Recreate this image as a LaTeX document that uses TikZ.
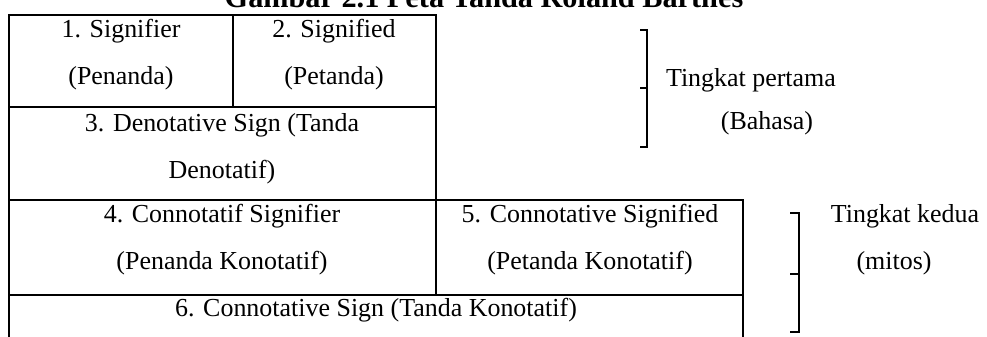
\documentclass[tikz,border=0pt]{standalone}
\usepackage{fontspec}
\setmainfont{Liberation Serif}

\begin{document}
\begin{tikzpicture}[x = 0.4625pt, y = -0.4625pt,
	txt/.style = {font = \fontsize{12}{14}\selectfont, inner sep = 0pt, anchor = base},
	frame/.style = {line width = 0.9pt},
	hook/.style = {line width = 0.8pt}]

	\useasboundingbox (0, 0) rectangle (987, 336);

	% Caption, cut off at the top
	
	\node [txt, font = \fontsize{14}{16}\bfseries\selectfont] (title) at (484, 7) {Gambar 2.1 Peta Tanda Roland Barthes};

	% First level (denotation)
	
	\draw [frame] (9, 15) rectangle (436, 200);
	\draw [frame] (9, 107) -- (436, 107);
	\draw [frame] (233, 15) -- (233, 107);
	
	\node [txt] (sgnr) at (121, 37) {1. Signifier};
	\node [txt] (pnd) at (121, 84) {(Penanda)};
	\node [txt] (sgnd) at (334, 37) {2. Signified};
	\node [txt] (ptd) at (334, 84) {(Petanda)};
	\node [txt] (dsign) at (222, 131) {3. Denotative Sign (Tanda};
	\node [txt] (dtd) at (222, 178) {Denotatif)};

	% Second level (connotation)
	
	\draw [frame] (9, 200) rectangle (743, 350);
	\draw [frame] (9, 295) -- (743, 295);
	\draw [frame] (436, 200) -- (436, 295);
	
	\node [txt] (csgnr) at (222, 222) {4. Connotatif Signifier};
	\node [txt] (cpnd) at (222, 269) {(Penanda Konotatif)};
	\node [txt] (csgnd) at (590, 222) {5. Connotative Signified};
	\node [txt] (cptd) at (590, 269) {(Petanda Konotatif)};
	\node [txt] (csign) at (376, 316) {6. Connotative Sign (Tanda Konotatif)};

	% Brackets with their labels
	
	\draw [hook] (640, 30) -- (647, 30) -- (647, 147) -- (640, 147);
	\draw [hook] (640, 88) -- (647, 88);
	\node [txt] (lvl1) at (751, 86) {Tingkat pertama};
	\node [txt] (bhs) at (767, 129) {(Bahasa)};
	
	\draw [hook] (790, 213) -- (799, 213) -- (799, 332) -- (790, 332);
	\draw [hook] (790, 274) -- (799, 274);
	\node [txt] (lvl2) at (905, 222) {Tingkat kedua};
	\node [txt] (mts) at (894, 269) {(mitos)};

\end{tikzpicture}
\end{document}
